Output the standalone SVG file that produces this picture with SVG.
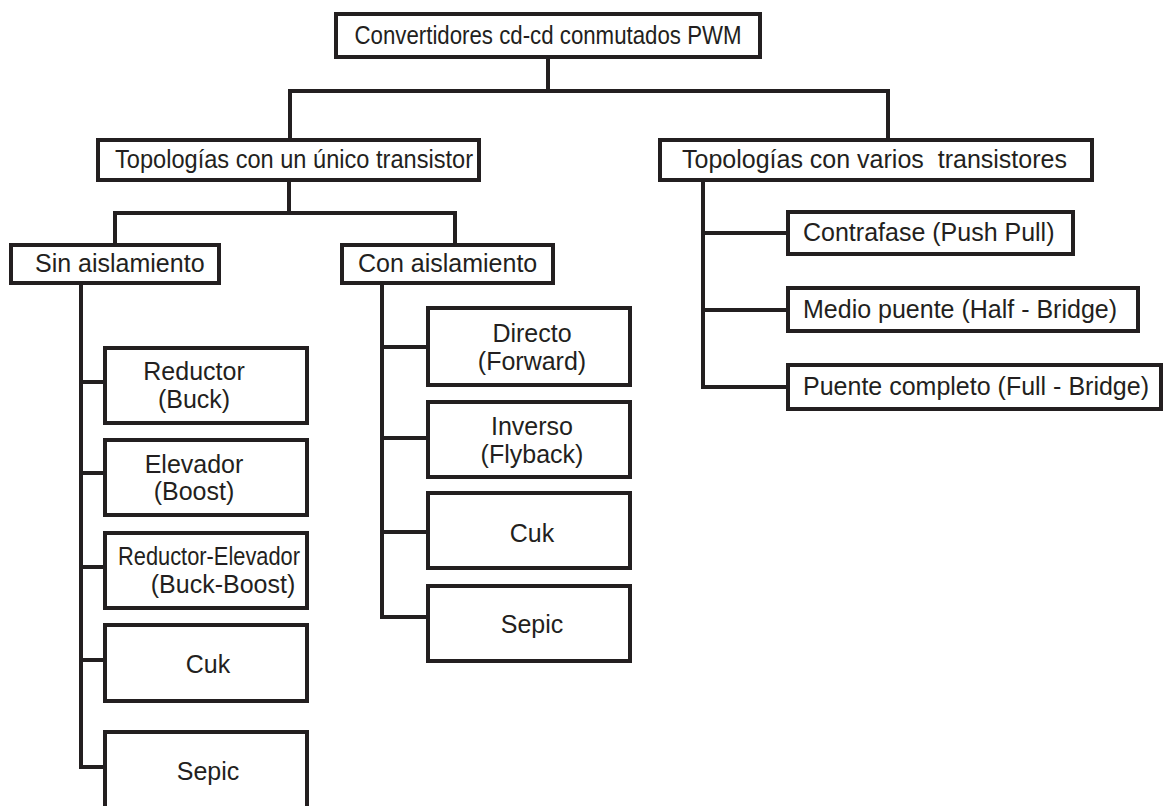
<svg xmlns="http://www.w3.org/2000/svg" width="1163" height="806" viewBox="0 0 1163 806">
  <style>
    .box { fill: #ffffff; stroke: #231f20; stroke-width: 4; }
    .wire { fill: none; stroke: #231f20; stroke-width: 4; stroke-linecap: square; }
    text { font-family: "Liberation Sans", Arial, sans-serif; font-size: 25px; fill: #231f20; }
    .c { text-anchor: middle; }
  </style>
  <rect width="1163" height="806" fill="#ffffff"/>

  <!-- connectors -->
  <g id="connectors" class="wire">
    <path d="M548 57 V91 M290 140 V91 H888 V140"/>
    <path d="M289 180 V213 M115 245 V213 H455 V245"/>
    <path d="M703 180 V387 M703 233 H788 M703 310 H788 M703 387 H788"/>
    <path d="M81 283 V767 M81 382 H105 M81 473 H105 M81 567 H105 M81 660 H105 M81 767 H105"/>
    <path d="M382 283 V617 M382 347 H428 M382 438 H428 M382 532 H428 M382 617 H428"/>
  </g>

  <g id="root">
    <rect class="box" x="336" y="14" width="424" height="43"/>
    <text class="c" x="548" y="44" textLength="387" lengthAdjust="spacingAndGlyphs">Convertidores cd-cd conmutados PWM</text>
  </g>

  <g id="single-transistor">
    <rect class="box" x="98" y="140" width="381" height="40"/>
    <text class="c" x="294" y="168" textLength="358" lengthAdjust="spacingAndGlyphs">Topologías con un único transistor</text>
  </g>

  <g id="multi-transistor">
    <rect class="box" x="660" y="140" width="432" height="40"/>
    <text x="682" y="168" xml:space="preserve">Topologías con varios  transistores</text>
  </g>

  <g id="sin-aislamiento">
    <rect class="box" x="11" y="245" width="208" height="38"/>
    <text x="35" y="272">Sin aislamiento</text>
  </g>

  <g id="con-aislamiento">
    <rect class="box" x="342" y="245" width="211" height="38"/>
    <text x="358" y="272">Con aislamiento</text>
  </g>

  <g id="contrafase">
    <rect class="box" x="788" y="212" width="285" height="42"/>
    <text x="803" y="241">Contrafase (Push Pull)</text>
  </g>

  <g id="medio-puente">
    <rect class="box" x="788" y="288" width="350" height="43"/>
    <text x="803" y="318">Medio puente (Half - Bridge)</text>
  </g>

  <g id="puente-completo">
    <rect class="box" x="788" y="365" width="373" height="44"/>
    <text x="803" y="395">Puente completo (Full - Bridge)</text>
  </g>

  <g id="reductor">
    <rect class="box" x="105" y="348" width="202" height="75"/>
    <text class="c" x="194" y="380">Reductor</text>
    <text class="c" x="194" y="408">(Buck)</text>
  </g>

  <g id="elevador">
    <rect class="box" x="105" y="440" width="202" height="75"/>
    <text class="c" x="194" y="473">Elevador</text>
    <text class="c" x="194" y="500">(Boost)</text>
  </g>

  <g id="reductor-elevador">
    <rect class="box" x="105" y="533" width="202" height="75"/>
    <text class="c" x="209" y="565" textLength="182" lengthAdjust="spacingAndGlyphs">Reductor-Elevador</text>
    <text class="c" x="223" y="593">(Buck-Boost)</text>
  </g>

  <g id="cuk-sin">
    <rect class="box" x="105" y="625" width="202" height="76"/>
    <text class="c" x="208" y="673">Cuk</text>
  </g>

  <g id="sepic-sin">
    <rect class="box" x="105" y="732" width="202" height="78"/>
    <text class="c" x="208" y="780">Sepic</text>
  </g>

  <g id="directo">
    <rect class="box" x="428" y="308" width="202" height="77"/>
    <text class="c" x="532" y="342">Directo</text>
    <text class="c" x="532" y="370">(Forward)</text>
  </g>

  <g id="inverso">
    <rect class="box" x="428" y="402" width="202" height="75"/>
    <text class="c" x="532" y="435">Inverso</text>
    <text class="c" x="532" y="463">(Flyback)</text>
  </g>

  <g id="cuk-con">
    <rect class="box" x="428" y="493" width="202" height="75"/>
    <text class="c" x="532" y="542">Cuk</text>
  </g>

  <g id="sepic-con">
    <rect class="box" x="428" y="586" width="202" height="75"/>
    <text class="c" x="532" y="633">Sepic</text>
  </g>
</svg>
